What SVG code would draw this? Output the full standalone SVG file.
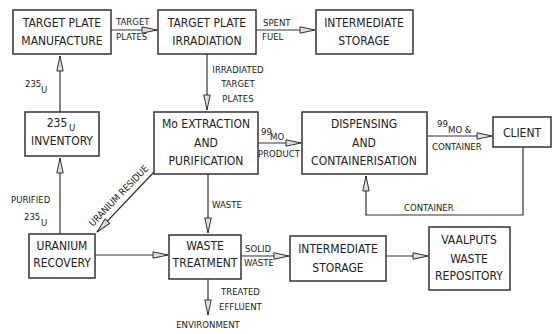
<svg xmlns="http://www.w3.org/2000/svg" width="553" height="334" viewBox="0 0 553 334">
<style>
.box{fill:#fff;stroke:#333;stroke-width:1.5}
.ln{fill:none;stroke:#333;stroke-width:1.2}
.t{font-family:"DejaVu Sans Condensed","DejaVu Sans",sans-serif;font-size:12px;fill:#222;text-anchor:middle}
.s{font-family:"DejaVu Sans Condensed","DejaVu Sans",sans-serif;font-size:9.5px;fill:#222;text-anchor:middle}
.sl{font-family:"DejaVu Sans Condensed","DejaVu Sans",sans-serif;font-size:9.5px;fill:#222}
</style>
<defs>
<marker id="ah" markerUnits="userSpaceOnUse" markerWidth="20" markerHeight="10" viewBox="-18 -5 20 10" refX="0" refY="0" orient="auto">
<path d="M0,0 L-15,-3.2 L-15,3.2 Z" fill="#ddd" stroke="#333" stroke-width="1"/>
</marker>
</defs>
<rect width="553" height="334" fill="#fff"/>
<g id="connectors">
<line class="ln" x1="111" y1="30" x2="157" y2="30" marker-end="url(#ah)"/>
<line class="ln" x1="256" y1="30" x2="315" y2="30" marker-end="url(#ah)"/>
<line class="ln" x1="207" y1="54" x2="207" y2="110" marker-end="url(#ah)"/>
<line class="ln" x1="60" y1="112" x2="60" y2="56" marker-end="url(#ah)"/>
<line class="ln" x1="60" y1="234" x2="60" y2="158" marker-end="url(#ah)"/>
<line class="ln" x1="258" y1="143" x2="301" y2="143" marker-end="url(#ah)"/>
<line class="ln" x1="427" y1="136" x2="492" y2="136" marker-end="url(#ah)"/>
<polyline class="ln" points="523,147 523,215 366,215 366,176" marker-end="url(#ah)"/>
<line class="ln" x1="154" y1="172" x2="97" y2="232" marker-end="url(#ah)"/>
<line class="ln" x1="208" y1="174" x2="208" y2="233" marker-end="url(#ah)"/>
<line class="ln" x1="95" y1="255" x2="168" y2="255" marker-end="url(#ah)"/>
<line class="ln" x1="241" y1="256" x2="289" y2="256" marker-end="url(#ah)"/>
<line class="ln" x1="386" y1="256" x2="428" y2="256" marker-end="url(#ah)"/>
<line class="ln" x1="208" y1="279" x2="208" y2="315" marker-end="url(#ah)"/>
<text class="sl" x="116" y="25">TARGET</text>
<text class="sl" x="116" y="40">PLATES</text>
<text class="sl" x="263" y="26">SPENT</text>
<text class="sl" x="262" y="40">FUEL</text>
<text class="s" x="238" y="73">IRRADIATED</text>
<text class="s" x="238" y="87">TARGET</text>
<text class="s" x="238" y="102">PLATES</text>
<text class="sl" x="25" y="87" font-size="10">235</text>
<text class="sl" x="41" y="93" font-size="9">U</text>
<text class="sl" x="11" y="203">PURIFIED</text>
<text class="sl" x="24" y="220" font-size="10">235</text>
<text class="sl" x="41" y="226" font-size="9">U</text>
<text class="sl" x="261" y="135">99</text>
<text class="sl" x="270" y="140" font-size="7.5">MO</text>
<text class="sl" x="258" y="157">PRODUCT</text>
<text class="sl" x="437" y="127">99</text>
<text class="sl" x="448" y="133" font-size="7.5">MO &amp;</text>
<text class="sl" x="432" y="150">CONTAINER</text>
<text class="sl" x="404" y="211">CONTAINER</text>
<text class="sl" x="212" y="208">WASTE</text>
<text class="sl" x="245" y="252">SOLID</text>
<text class="sl" x="244" y="266">WASTE</text>
<text class="sl" x="221" y="295">TREATED</text>
<text class="sl" x="219" y="310">EFFLUENT</text>
<text class="s" x="208" y="328">ENVIRONMENT</text>
<text class="s" transform="translate(121,198) rotate(-46)">URANIUM RESIDUE</text>
</g>
<g id="n1"><rect class="box" x="13" y="10" width="98" height="44"/><text class="t" x="62" y="27">TARGET PLATE</text><text class="t" x="62" y="45">MANUFACTURE</text></g>
<g id="n2"><rect class="box" x="158" y="10" width="98" height="44"/><text class="t" x="207" y="27">TARGET PLATE</text><text class="t" x="207" y="45">IRRADIATION</text></g>
<g id="n3"><rect class="box" x="316" y="10" width="97" height="44"/><text class="t" x="364" y="27">INTERMEDIATE</text><text class="t" x="364" y="45">STORAGE</text></g>
<g id="n4"><rect class="box" x="25" y="112" width="74" height="44"/><text class="t" x="57" y="127" font-size="13">235</text><text class="sl" x="69" y="131" font-size="9">U</text><text class="t" x="62" y="145">INVENTORY</text></g>
<g id="n5"><rect class="box" x="154" y="112" width="104" height="62"/><text class="t" x="206" y="128">Mo EXTRACTION</text><text class="t" x="206" y="147">AND</text><text class="t" x="206" y="165">PURIFICATION</text></g>
<g id="n6"><rect class="box" x="302" y="112" width="125" height="62"/><text class="t" x="364" y="128">DISPENSING</text><text class="t" x="364" y="147">AND</text><text class="t" x="364" y="165">CONTAINERISATION</text></g>
<g id="n7"><rect class="box" x="493" y="117" width="58" height="30"/><text class="t" x="522" y="137" font-size="13">CLIENT</text></g>
<g id="n8"><rect class="box" x="29" y="234" width="66" height="44"/><text class="t" x="62" y="250">URANIUM</text><text class="t" x="62" y="267">RECOVERY</text></g>
<g id="n9"><rect class="box" x="169" y="235" width="72" height="44"/><text class="t" x="205" y="250">WASTE</text><text class="t" x="205" y="267">TREATMENT</text></g>
<g id="n10"><rect class="box" x="290" y="236" width="96" height="45"/><text class="t" x="338" y="253">INTERMEDIATE</text><text class="t" x="338" y="272">STORAGE</text></g>
<g id="n11"><rect class="box" x="429" y="227" width="81" height="63"/><text class="t" x="469" y="244">VAALPUTS</text><text class="t" x="469" y="263">WASTE</text><text class="t" x="469" y="280">REPOSITORY</text></g>
</svg>
